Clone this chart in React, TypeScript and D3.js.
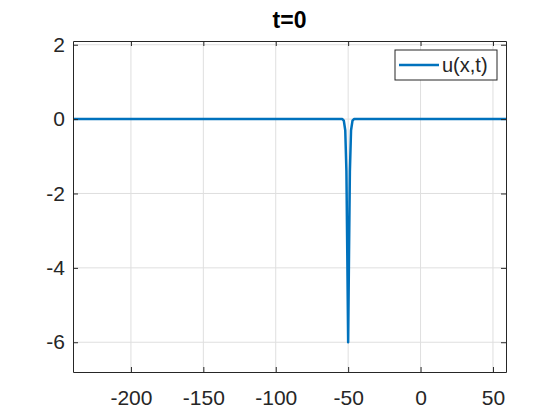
import React, { useRef, useEffect } from 'react';
import * as d3 from 'd3';

// values
const xs = [-240, -54, -53, -52, -51.2, -50.6, -50, -49.4, -48.8, -48, -47, -46, 59];
const us = [0, 0, -0.04, -0.3, -1.4, -3.6, -6, -3.6, -1.4, -0.3, -0.04, 0, 0];
const xTicks = [-200, -150, -100, -50, 0, 50];
const yTicks = [-6, -4, -2, 0, 2];
const title = 't=0';
const legendLabel = 'u(x,t)';

const App = () => {
  const ref = useRef(null);

  useEffect(() => {
    if (!ref.current) return;
    const W = 560;
    const H = 420;
    const margin = { top: 41, right: 54, bottom: 48, left: 73 };
    const width = W - margin.left - margin.right;
    const height = H - margin.top - margin.bottom;
    const axisColor = '#262626';
    const font = '"Liberation Sans", Arial, sans-serif';
    const fmt = d => String(d);

    const root = d3.select(ref.current);
    root.selectAll('*').remove();
    root.attr('width', W).attr('height', H);

    root.append('rect').attr('width', W).attr('height', H).attr('fill', 'white');

    const svg = root.append('g').attr('transform', `translate(${margin.left},${margin.top})`);

    const x = d3.scaleLinear().domain([-240, 59]).range([0, width]);
    const y = d3.scaleLinear().domain([-6.8, 2.1]).range([height, 0]);

    // grid
    svg.append('g')
      .selectAll('line')
      .data(xTicks)
      .enter()
      .append('line')
      .attr('x1', d => x(d)).attr('x2', d => x(d))
      .attr('y1', 0).attr('y2', height)
      .attr('stroke', '#dfdfdf').attr('stroke-width', 1);
    svg.append('g')
      .selectAll('line')
      .data(yTicks)
      .enter()
      .append('line')
      .attr('x1', 0).attr('x2', width)
      .attr('y1', d => y(d)).attr('y2', d => y(d))
      .attr('stroke', '#dfdfdf').attr('stroke-width', 1);

    // the curve
    const pts = xs.map((v, i) => [v, us[i]]);
    svg.append('path')
      .datum(pts)
      .attr('fill', 'none')
      .attr('stroke', '#0072BD')
      .attr('stroke-width', 2.5)
      .attr('stroke-linejoin', 'round')
      .attr('d', d3.line().x(d => x(d[0])).y(d => y(d[1])));

    // axes (ticks pointing inward, box on all sides)
    const styleAxis = g => {
      g.select('.domain').attr('stroke', axisColor);
      g.selectAll('line').attr('stroke', axisColor);
      g.selectAll('text')
        .attr('fill', axisColor)
        .style('font-family', font)
        .style('font-size', '21px');
    };

    svg.append('g')
      .attr('transform', `translate(0,${height})`)
      .call(d3.axisBottom(x).tickValues(xTicks).tickFormat(fmt).tickSizeInner(-5).tickSizeOuter(0).tickPadding(18))
      .call(styleAxis);
    svg.append('g')
      .call(d3.axisTop(x).tickValues(xTicks).tickSizeInner(-5).tickSizeOuter(0).tickFormat(() => ''))
      .call(styleAxis);
    svg.append('g')
      .call(d3.axisLeft(y).tickValues(yTicks).tickFormat(fmt).tickSizeInner(-5).tickSizeOuter(0).tickPadding(8))
      .call(styleAxis);
    svg.append('g')
      .attr('transform', `translate(${width},0)`)
      .call(d3.axisRight(y).tickValues(yTicks).tickSizeInner(-5).tickSizeOuter(0).tickFormat(() => ''))
      .call(styleAxis);

    // title
    root.append('text')
      .attr('x', margin.left + width / 2)
      .attr('y', 28)
      .attr('text-anchor', 'middle')
      .attr('fill', 'black')
      .style('font-family', font)
      .style('font-size', '23px')
      .style('font-weight', 'bold')
      .text(title);

    // legend
    const lgW = 102;
    const lgH = 30;
    const lg = svg.append('g').attr('transform', `translate(${width - 9 - lgW},9)`);
    lg.append('rect')
      .attr('width', lgW).attr('height', lgH)
      .attr('fill', 'white')
      .attr('stroke', axisColor)
      .attr('stroke-width', 1);
    lg.append('line')
      .attr('x1', 4).attr('x2', 44)
      .attr('y1', lgH / 2).attr('y2', lgH / 2)
      .attr('stroke', '#0072BD').attr('stroke-width', 2.5);
    lg.append('text')
      .attr('x', 47)
      .attr('y', lgH / 2 + 7)
      .attr('fill', axisColor)
      .style('font-family', font)
      .style('font-size', '20px')
      .text(legendLabel);
  }, []);

  return <svg ref={ref} style={{ display: 'block', position: 'absolute', left: 0, top: 0 }} />;
};

export default App;
